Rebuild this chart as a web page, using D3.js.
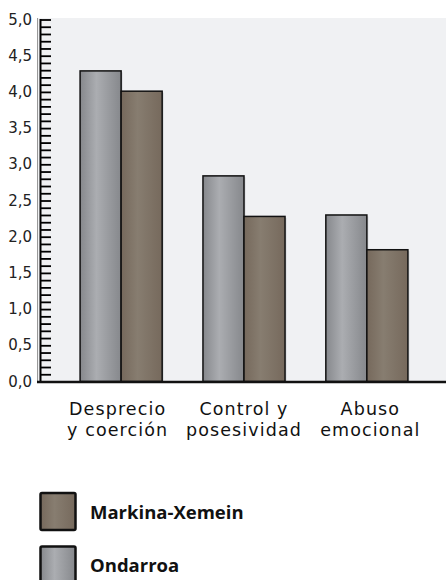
<!DOCTYPE html>
<html><head><meta charset="utf-8">
<script src="https://cdn.jsdelivr.net/npm/d3@7"></script>
<style>html,body{margin:0;padding:0;background:#fff;}</style>
</head><body>
<svg id="chart" width="446" height="580"></svg>
<script>
const categories = [["Desprecio","y coerción"],["Control y","posesividad"],["Abuso","emocional"]];
const seriesNames = ["Ondarroa","Markina-Xemein"];
const ondarroa = [4.29, 2.84, 2.30];
const markina = [4.01, 2.28, 1.82];
const yTicks = [0,0.5,1,1.5,2,2.5,3,3.5,4,4.5,5];
const legendOrder = ["Markina-Xemein","Ondarroa"];

const svg = d3.select("#chart");
const defs = svg.append("defs");
function grad(id, edge, mid){
  const g = defs.append("linearGradient").attr("id", id).attr("x1","0%").attr("x2","100%").attr("y1","0%").attr("y2","0%");
  g.append("stop").attr("offset","0%").attr("stop-color", edge);
  g.append("stop").attr("offset","40%").attr("stop-color", mid);
  g.append("stop").attr("offset","100%").attr("stop-color", edge);
}
grad("gGray", "#86888c", "#abadb1");
grad("gBrown", "#76695c", "#877d70");
const fills = {"Ondarroa":"url(#gGray)","Markina-Xemein":"url(#gBrown)"};

const y = d3.scaleLinear().domain([0,5]).range([381.5,19.5]);
const x0 = d3.scaleBand().domain(d3.range(categories.length)).range([39.3,448.7]).paddingInner(0.332).paddingOuter(0.332);
const x1 = d3.scaleBand().domain(seriesNames).range([0, x0.bandwidth()]);

// plot background
svg.append("rect").attr("x",37).attr("y",18).attr("width",446-37).attr("height",y(0)-18).attr("fill","#f0f1f3");
svg.append("line").attr("x1",37.5).attr("x2",37.5).attr("y1",18).attr("y2",383).attr("stroke","#999").attr("stroke-width",1);

// bars
const data = categories.map((c,i)=>({i, vals:[{k:"Ondarroa",v:ondarroa[i]},{k:"Markina-Xemein",v:markina[i]}]}));
const g = svg.append("g");
data.forEach(d=>{
  d.vals.forEach(b=>{
    const bx = x0(d.i)+x1(b.k);
    g.append("rect").attr("x",bx+1.5).attr("y",y(b.v)+1.5).attr("width",x1.bandwidth()).attr("height",y(0)-y(b.v)).attr("fill","#d3d5d9");
  });
  d.vals.forEach(b=>{
    const bx = x0(d.i)+x1(b.k);
    g.append("rect").attr("x",bx).attr("y",y(b.v)).attr("width",x1.bandwidth()).attr("height",y(0)-y(b.v))
      .attr("fill",fills[b.k]).attr("stroke","#111").attr("stroke-width",1.5);
  });
});

// y axis with minor ticks every 0.1
const yAxis = d3.axisRight(y).tickValues(d3.range(0,51).map(v=>v/10)).tickSize(11).tickFormat("");
const ya = svg.append("g").attr("transform","translate(40,0)").call(yAxis);
ya.select(".domain").remove();
ya.selectAll(".tick line").attr("stroke","#000").attr("stroke-width",1.8);
svg.append("line").attr("x1",40.5).attr("x2",40.5).attr("y1",19).attr("y2",382).attr("stroke","#000").attr("stroke-width",2);

// y labels
const yl = d3.axisLeft(y).tickValues(yTicks).tickSize(0).tickFormat(d=>d3.format(".1f")(d).replace(".",","));
const yla = svg.append("g").attr("transform","translate(37,0)").call(yl);
yla.select(".domain").remove();
yla.selectAll("text").attr("font-family","DejaVu Sans").attr("font-size",15).attr("fill","#222").attr("dx","-2").attr("dy","0.3em");

// bottom axis
svg.append("line").attr("x1",37).attr("x2",446).attr("y1",y(0)+0.5).attr("y2",y(0)+0.5).attr("stroke","#111").attr("stroke-width",2.6);

// category labels (one text per line)
categories.forEach((c,i)=>{
  const cx = x0(i)+x0.bandwidth()/2 + (i-1)*3.5;
  c.forEach((line,j)=>{
    svg.append("text").attr("text-anchor","middle").attr("x",cx).attr("y",414.5 + j*21)
      .attr("font-family","DejaVu Sans").attr("font-size",17.5).attr("letter-spacing","1.1px").attr("fill","#111").text(line);
  });
});

// legend
const legend = svg.append("g");
legendOrder.forEach((k,i)=>{
  const ly = 493 + i*53.5;
  legend.append("rect").attr("x",40.5).attr("y",ly).attr("width",35).attr("height",37)
    .attr("fill",fills[k]).attr("stroke","#111").attr("stroke-width",2.5).attr("rx",1.5);
  legend.append("text").attr("x",90).attr("y",ly+25.5).attr("font-family","Open Sans").attr("font-weight","bold")
    .attr("font-size",18.5).attr("fill","#111").text(k);
});
</script>
</body></html>
